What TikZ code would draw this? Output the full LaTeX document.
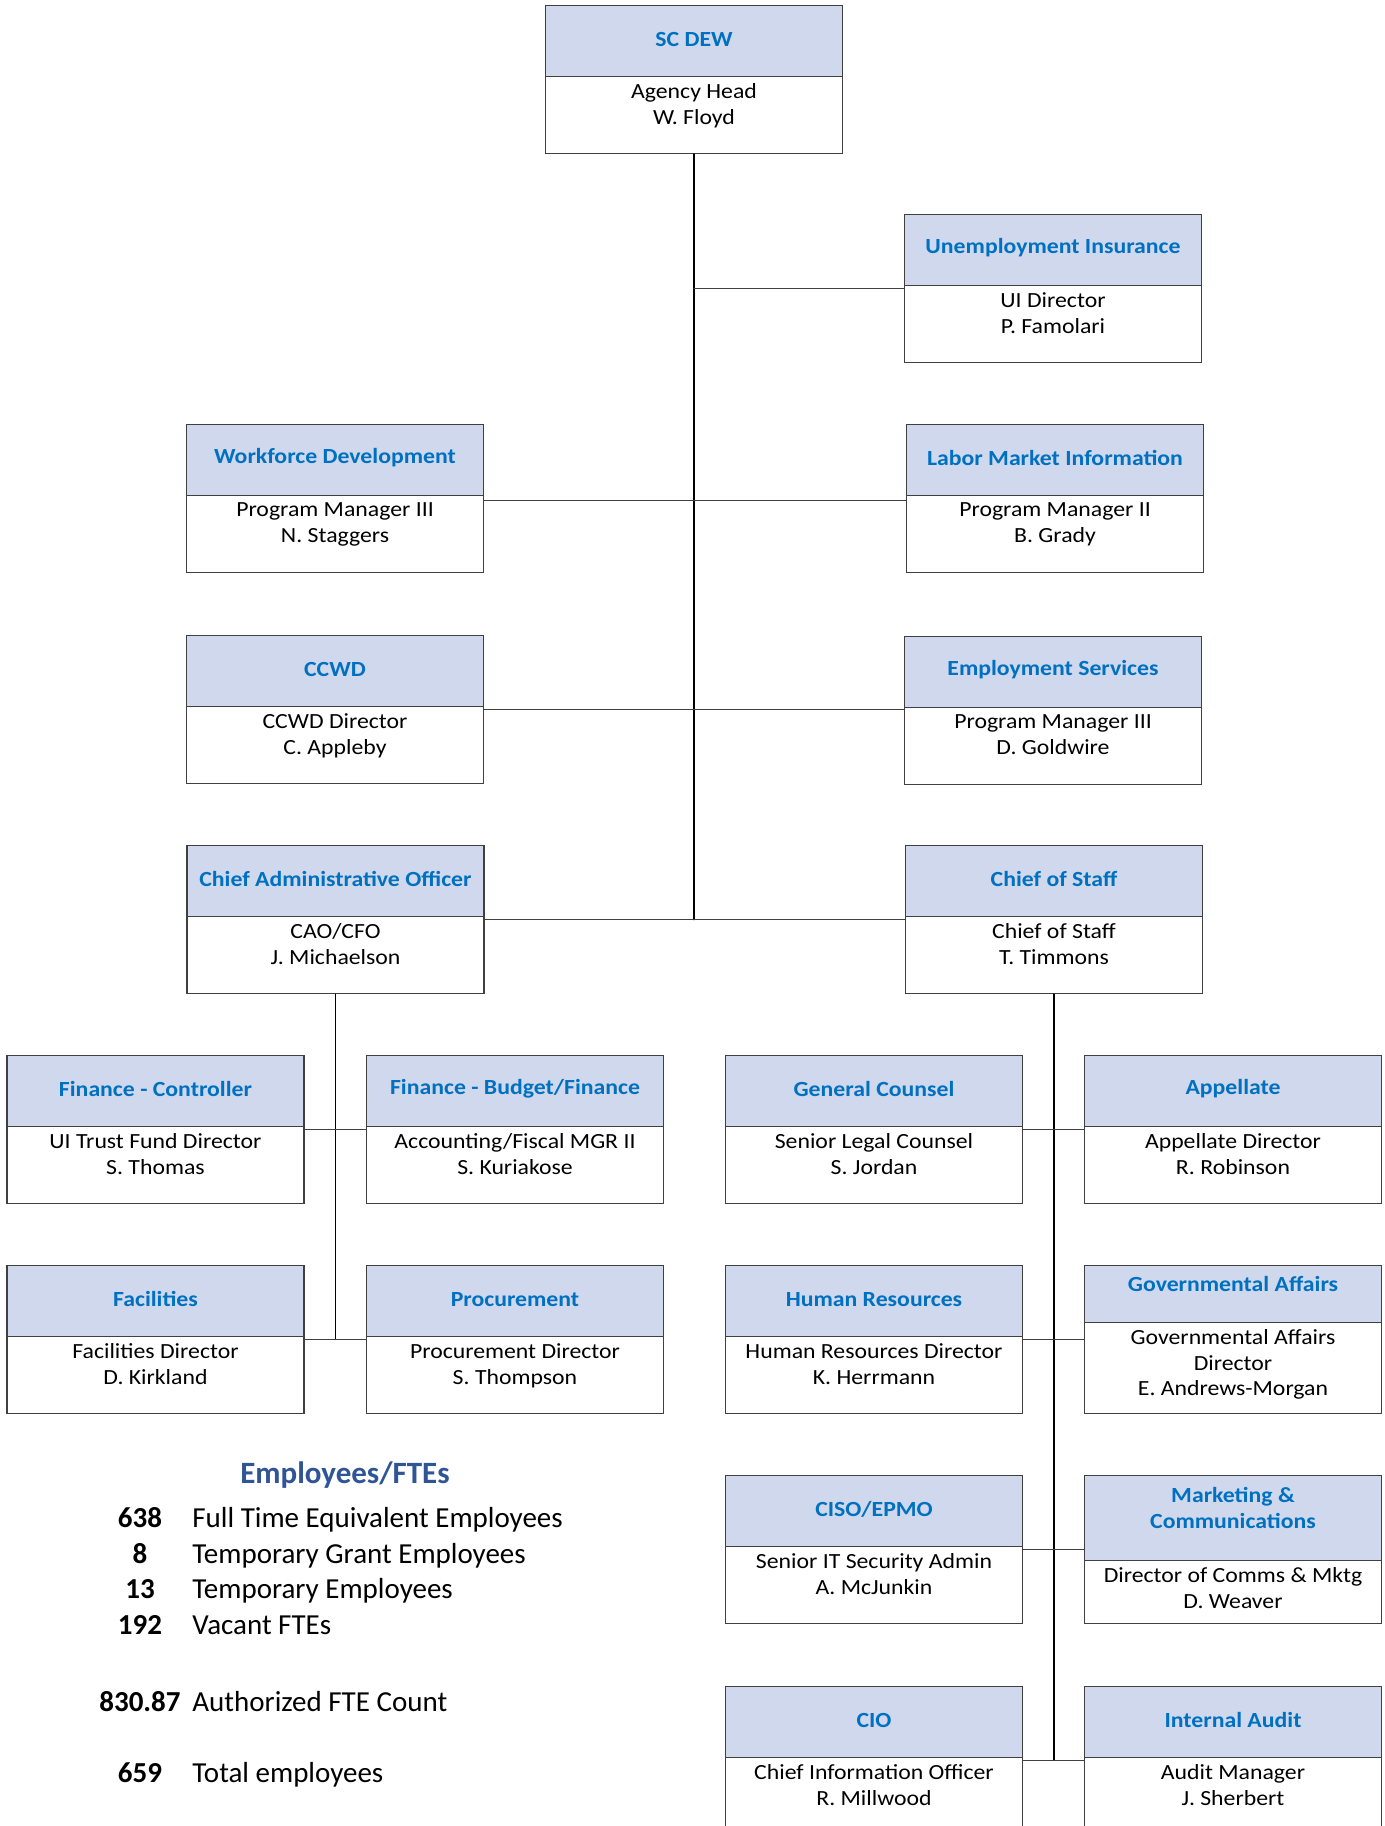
\documentclass[tikz,border=0pt]{standalone}
\usepackage{fontspec}
\setmainfont{Carlito}
\newfontfamily\boxfont{Carlito}[FakeStretch=1.1]
\definecolor{headfill}{HTML}{CFD8EC}
\definecolor{titleblue}{HTML}{0070C0}
\definecolor{legendblue}{HTML}{2F5597}
\definecolor{edge}{HTML}{404040}

% [header height]{name}{x}{y}{title shift}{title}{holder}
\newcommand{\orgunit}[7][35.5pt]{%
  \node[unitbox] (#2) at (#3,#4) {};
  \node[unithead, minimum height=#1] (#2-h) at (#2.north) {};
  \node[unittitle] (#2-t) at ([yshift=#5]#2-h.center) {#6};
  \node[unitholder] (#2-r) at ([yshift=-3pt]#2-h.south) {#7};
}

\begin{document}
\begin{tikzpicture}[x=0.5pt,y=-0.5pt,line cap=round,
  unitbox/.style={draw=edge,line width=0.6pt,fill=white,anchor=north,minimum width=148.5pt,minimum height=74pt,inner sep=0pt},
  unithead/.style={draw=edge,line width=0.6pt,fill=headfill,anchor=north,minimum width=148.5pt,inner sep=0pt},
  unittitle/.style={align=center,inner sep=0pt,text=titleblue,font=\boxfont\bfseries\fontsize{10.8}{12.8}\selectfont},
  unitholder/.style={anchor=north,align=center,inner sep=0pt,font=\boxfont\fontsize{10.8}{12.8}\selectfont},
  trunk/.style={line width=1.2pt,black},
  subtrunk/.style={line width=0.9pt,black},
  branch/.style={line width=0.65pt,edge},
  tally/.style={anchor=base,inner sep=0pt,font=\bfseries\fontsize{14.5}{17}\selectfont},
  tallytext/.style={anchor=base west,inner sep=0pt,font=\fontsize{14.5}{17}\selectfont}]
  \useasboundingbox (0,0) rectangle (1385,1826);

  % top of the chart
  \orgunit{dew}{694}{5}{1pt}{SC DEW}{Agency Head\\W. Floyd}
  \orgunit{ui}{1053}{214}{1pt}{Unemployment Insurance}{UI Director\\P. Famolari}
  \orgunit{wd}{335}{424}{1pt}{Workforce Development}{Program Manager III\\N. Staggers}
  \orgunit{lmi}{1055}{424}{1pt}{Labor Market Information}{Program Manager II\\B. Grady}
  \orgunit{ccwd}{335}{635}{1pt}{CCWD}{CCWD Director\\C. Appleby}
  \orgunit{es}{1053}{636}{1pt}{Employment Services}{Program Manager III\\D. Goldwire}
  \orgunit{cao}{335.5}{845}{1pt}{Chief Administrative Officer}{CAO/CFO\\J. Michaelson}
  \orgunit{cos}{1054}{845}{1pt}{Chief of Staff}{Chief of Staff\\T. Timmons}

  % under the CAO
  \orgunit{fc}{155.5}{1055}{1pt}{Finance - Controller}{UI Trust Fund Director\\S. Thomas}
  \orgunit{fb}{515}{1055}{1pt}{Finance - Budget/Finance}{Accounting/Fiscal MGR II\\S. Kuriakose}
  \orgunit{fac}{155.5}{1265}{1pt}{Facilities}{Facilities Director\\D. Kirkland}
  \orgunit{proc}{515}{1265}{1pt}{Procurement}{Procurement Director\\S. Thompson}

  % under the chief of staff
  \orgunit{gc}{874}{1055}{1pt}{General Counsel}{Senior Legal Counsel\\S. Jordan}
  \orgunit{app}{1233}{1055}{1pt}{Appellate}{Appellate Director\\R. Robinson}
  \orgunit{hr}{874}{1265}{1pt}{Human Resources}{Human Resources Director\\K. Herrmann}
  \orgunit[28.5pt]{ga}{1233}{1265}{5pt}{Governmental Affairs}{Governmental Affairs\\Director\\E. Andrews-Morgan}
  \orgunit{ciso}{874}{1475}{1pt}{CISO/EPMO}{Senior IT Security Admin\\A. McJunkin}
  \orgunit[42.5pt]{mc}{1233}{1475}{5pt}{Marketing \&\\Communications}{Director of Comms \& Mktg\\D. Weaver}
  \orgunit{cio}{874}{1686}{1pt}{CIO}{Chief Information Officer\\R. Millwood}
  \orgunit{ia}{1233}{1686}{1pt}{Internal Audit}{Audit Manager\\J. Sherbert}

  % connectors
  \draw[trunk] (dew.south) -- ([yshift=-1pt]dew.south |- cao-h.south);
  \draw[branch] ([yshift=-1pt]ui-h.south west) -- ([yshift=-1pt]ui-h.south west -| dew.south);
  \draw[branch] ([yshift=-2pt]wd-h.south east) -- ([yshift=-2pt]lmi-h.south west);
  \draw[branch] ([yshift=-1pt]ccwd-h.south east) -- ([yshift=-1pt]ccwd-h.south east -| es.west);
  \draw[branch] ([yshift=-1pt]cao-h.south east) -- ([yshift=-1pt]cos-h.south west);
  \draw[subtrunk] (cao.south) -- ([yshift=-1pt]cao.south |- fac-h.south);
  \draw[branch] ([yshift=-1pt]fc-h.south east) -- ([yshift=-1pt]fb-h.south west);
  \draw[branch] ([yshift=-1pt]fac-h.south east) -- ([yshift=-1pt]proc-h.south west);
  \draw[subtrunk] (cos.south) -- ([yshift=-1pt]cos.south |- cio-h.south);
  \draw[branch] ([yshift=-1pt]gc-h.south east) -- ([yshift=-1pt]app-h.south west);
  \draw[branch] ([yshift=-1pt]hr-h.south east) -- ([yshift=-1pt]hr-h.south east -| ga.west);
  \draw[branch] ([yshift=-1pt]ciso-h.south east) -- ([yshift=-1pt]ciso-h.south east -| mc.west);
  \draw[branch] ([yshift=-1pt]cio-h.south east) -- ([yshift=-1pt]ia-h.south west);

  % head count
  \node[anchor=base,text=legendblue,font=\bfseries\fontsize{15.5}{18}\selectfont] (emp) at (345,1483) {Employees/FTEs};
  \foreach \num/\what/\y [count=\i] in {638/Full Time Equivalent Employees/1527,
      8/Temporary Grant Employees/1563, 13/Temporary Employees/1598,
      192/Vacant FTEs/1634, 830.87/Authorized FTE Count/1711, 659/Total employees/1782}{
    \node[tally] (num\i) at (140,\y) {\num};
    \node[tallytext] (what\i) at (192,\y) {\what};}
\end{tikzpicture}
\end{document}
